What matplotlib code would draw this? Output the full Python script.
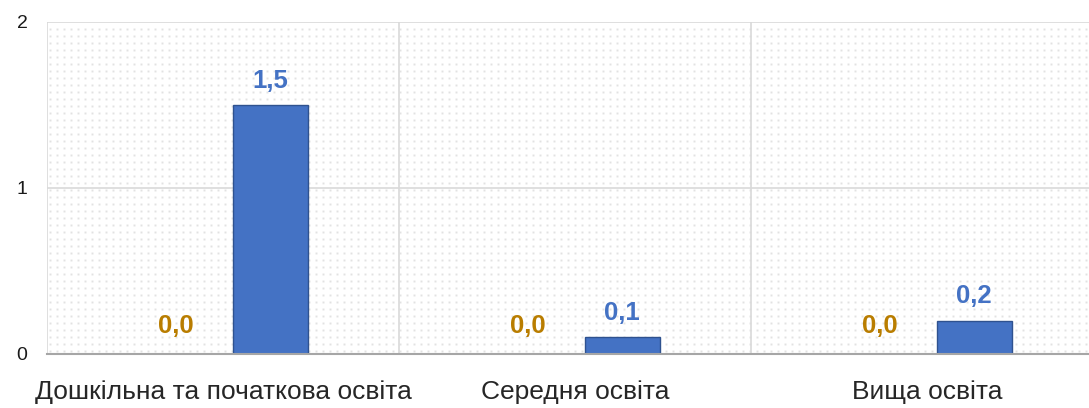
import numpy as np
import matplotlib.pyplot as plt

plt.rcParams['font.family'] = ['Liberation Sans', 'DejaVu Sans']

categories = ['Дошкільна та початкова освіта', 'Середня освіта', 'Вища освіта']
series_a = [0.0, 0.0, 0.0]
series_b = [1.5, 0.1, 0.2]
labels_a = ['0,0', '0,0', '0,0']
labels_b = ['1,5', '0,1', '0,2']

fig = plt.figure(figsize=(10.89, 4.08), dpi=100)
ax = fig.add_axes([47/1089, 54/408, 1056/1089, 332/408])

x = np.arange(len(categories))
w = 0.213
off = 0.134

# dotted background texture (axes fraction grid, ~7px spacing)
gx, gy = np.meshgrid(np.arange(3, 1056, 7) / 1056, np.arange(3, 332, 7) / 332)
ax.plot(gx.ravel(), gy.ravel(), ls='none', marker='s', ms=1.4, mew=0,
        color='#e2e2e2', transform=ax.transAxes, zorder=0)

ba = ax.bar(x - off, series_a, w, color='#ffc000', zorder=3)
bb = ax.bar(x + off, series_b, w, color='#4472c4', edgecolor='#2f528f', lw=1, zorder=3)

for xi, v, t in zip(x - off, series_a, labels_a):
    ax.annotate(t, (xi, v), xytext=(0, 20), textcoords='offset points',
                ha='center', va='center', fontsize=18.5, fontweight='bold', color='#b97d00')
for xi, v, t in zip(x + off, series_b, labels_b):
    ax.annotate(t, (xi, v), xytext=(0, 17.5), textcoords='offset points',
                ha='center', va='center', fontsize=18.5, fontweight='bold', color='#4472c4')

ax.set_xlim(-0.5, 2.5)
ax.set_ylim(0, 2)
ax.set_yticks([0, 1, 2])
ax.set_yticklabels(['0', '1', '2'], fontsize=14, color='#1a1a1a')
ax.set_xticks(x)
ax.set_xticklabels(categories, fontsize=19, color='#262626')
ax.tick_params(axis='both', length=0)
ax.tick_params(axis='y', pad=14)
ax.tick_params(axis='x', pad=19)

for yv in [1, 2]:
    ax.axhline(yv, color='#d9d9d9', lw=1.2, zorder=1)
for xv in [-0.5, 0.5, 1.5]:
    ax.axvline(xv, color='#d9d9d9', lw=1.2, zorder=1)

for s in ['top', 'right', 'left']:
    ax.spines[s].set_visible(False)
ax.spines['bottom'].set_color('#a6a6a6')
ax.spines['bottom'].set_linewidth(1.5)
ax.spines['bottom'].set_zorder(4)

fig.savefig('out.png', dpi=100)
